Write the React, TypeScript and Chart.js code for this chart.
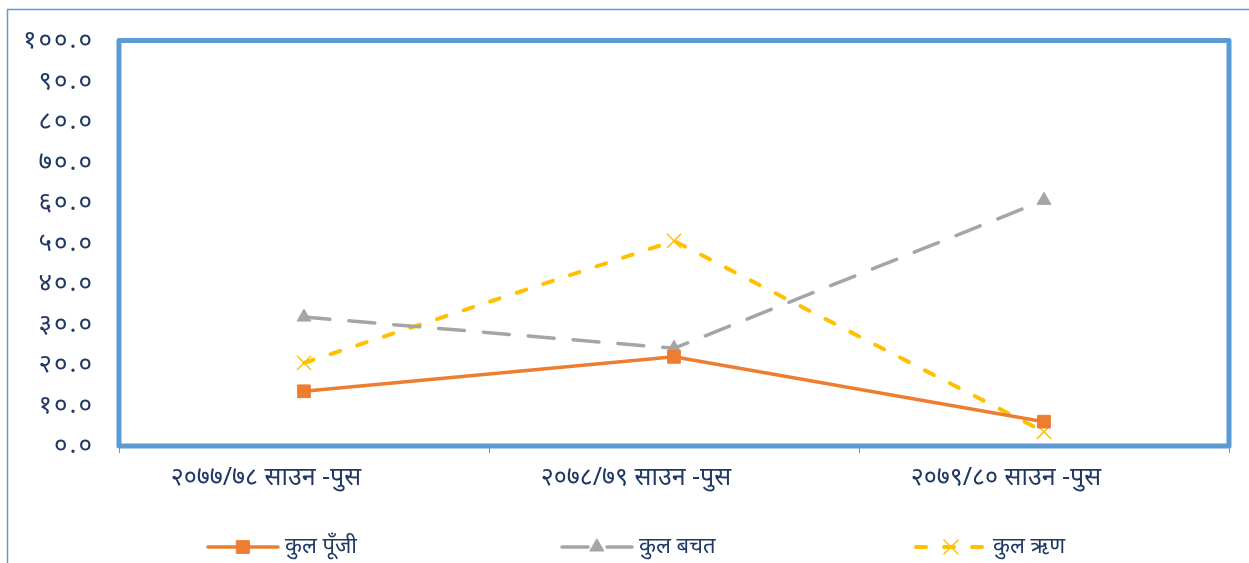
import React, { useEffect, useRef } from "react";
import { Chart, registerables } from "chart.js";
import { drawPoint } from "chart.js/helpers";

Chart.register(...registerables);

const categories = ["२०७७/७८ साउन -पुस", "२०७८/७९ साउन -पुस", "२०७९/८० साउन -पुस"];
const seriesNames = ["कुल पूँजी", "कुल बचत", "कुल ऋण"];
const capital = [13.5, 22.0, 6.0];
const savings = [31.8, 24.1, 60.6];
const loans = [20.5, 50.6, 3.5];
const yMin = 0;
const yMax = 100;
const yStep = 10;
const devanagariDigits = ["०", "१", "२", "३", "४", "५", "६", "७", "८", "९"];

const toDevanagari = (s: string) => s.replace(/[0-9]/g, (d) => devanagariDigits[Number(d)]);

const FONT = "'Noto Sans', sans-serif";
const TEXT = "#1F3864";
const BLUE = "#5B9BD5";

const framePlugin = {
  id: "frame",
  beforeDraw(chart: any) {
    const ctx = chart.ctx;
    const ys = chart.scales.y;
    if (ys && !ys.__spaced) {
      ys.__spaced = true;
      const orig = ys.drawLabels;
      ys.drawLabels = function (area: any) {
        const c = this.ctx;
        const prev = c.letterSpacing;
        c.letterSpacing = "2px";
        orig.call(this, area);
        c.letterSpacing = prev || "0px";
      };
    }
    ctx.save();
    ctx.strokeStyle = BLUE;
    ctx.lineWidth = 1.5;
    ctx.beginPath();
    ctx.moveTo(7.5, chart.height);
    ctx.lineTo(7.5, 9.5);
    ctx.lineTo(chart.width, 9.5);
    ctx.stroke();
    ctx.restore();
  },
  beforeDatasetsDraw(chart: any) {
    const { ctx, chartArea } = chart;
    ctx.save();
    ctx.strokeStyle = BLUE;
    ctx.lineWidth = 5;
    ctx.lineJoin = "round";
    ctx.strokeRect(chartArea.left, chartArea.top, chartArea.right - chartArea.left, chartArea.bottom - chartArea.top);
    ctx.restore();
  },
};

const legendX = [208, 562, 916];
const legendPlugin = {
  id: "customLegend",
  afterDraw(chart: any) {
    const ctx = chart.ctx;
    const y = 547;
    chart.data.datasets.forEach((ds: any, i: number) => {
      const x0 = legendX[i];
      ctx.save();
      ctx.strokeStyle = ds.borderColor;
      ctx.lineWidth = ds.borderWidth;
      ctx.lineCap = "round";
      ctx.setLineDash(ds.borderDash || []);
      ctx.beginPath();
      ctx.moveTo(x0, y);
      ctx.lineTo(x0 + 70, y);
      ctx.stroke();
      ctx.setLineDash([]);
      ctx.fillStyle = ds.pointBackgroundColor;
      ctx.strokeStyle = ds.pointBorderColor;
      ctx.lineWidth = ds.pointBorderWidth;
      drawPoint(ctx, { pointStyle: ds.pointStyle, radius: ds.pointRadius, rotation: 0, borderWidth: ds.pointBorderWidth }, x0 + 35, y);
      ctx.fillStyle = TEXT;
      ctx.font = `22px ${FONT}`;
      ctx.textBaseline = "middle";
      ctx.textAlign = "left";
      ctx.fillText(ds.label, x0 + 77, y);
      ctx.restore();
    });
  },
};

export default function App() {
  const ref = useRef<HTMLCanvasElement>(null);
  useEffect(() => {
    if (!ref.current) return;
    const chart = new Chart(ref.current, {
      type: "line",
      data: {
        labels: categories,
        datasets: [
          {
            label: seriesNames[0],
            data: capital,
            borderColor: "#ED7D31",
            backgroundColor: "#ED7D31",
            borderWidth: 3.5,
            pointStyle: "rect",
            pointRadius: 9,
            pointBackgroundColor: "#ED7D31",
            pointBorderColor: "#ED7D31",
            pointBorderWidth: 1,
            tension: 0,
          },
          {
            label: seriesNames[1],
            data: savings,
            borderColor: "#A5A5A5",
            backgroundColor: "#A5A5A5",
            borderWidth: 3.5,
            borderDash: [26, 19],
            borderCapStyle: "round",
            pointStyle: "triangle",
            pointRadius: 8,
            pointBackgroundColor: "#A5A5A5",
            pointBorderColor: "#A5A5A5",
            pointBorderWidth: 1,
            tension: 0,
          },
          {
            label: seriesNames[2],
            data: loans,
            borderColor: "#FFC000",
            backgroundColor: "#FFC000",
            borderWidth: 4,
            borderDash: [10, 18],
            borderCapStyle: "round",
            pointStyle: "crossRot",
            pointRadius: 10,
            pointBackgroundColor: "#FFC000",
            pointBorderColor: "#FFC000",
            pointBorderWidth: 1.5,
            tension: 0,
          },
        ],
      },
      options: {
        responsive: false,
        animation: false,
        layout: { padding: { left: 0, top: 40, right: 20, bottom: 0 } },
        plugins: { legend: { display: false }, tooltip: { enabled: false } },
        scales: {
          x: {
            type: "category",
            offset: true,
            border: { display: false },
            grid: { display: true, drawOnChartArea: false, drawTicks: true, tickLength: 7, offset: true, color: BLUE, lineWidth: 1 },
            ticks: { color: TEXT, font: { family: FONT, size: 25 }, padding: 10, labelOffset: -38, maxRotation: 0, autoSkip: false },
            afterFit: (s: any) => {
              s.height = 117;
            },
          },
          y: {
            min: yMin,
            max: yMax,
            border: { display: false },
            grid: { display: false, drawTicks: false },
            ticks: {
              stepSize: yStep,
              color: TEXT,
              font: { family: FONT, size: 26 },
              padding: 25,
              callback: (v: any) => toDevanagari(Number(v).toFixed(1)),
            },
            afterFit: (s: any) => {
              s.width = 119;
            },
          },
        },
      },
      plugins: [framePlugin, legendPlugin],
    });
    return () => chart.destroy();
  }, []);
  return (
    <div style={{ position: "fixed", left: 0, top: 0, width: 1249, height: 563, overflow: "hidden", background: "#fff" }}>
      <canvas ref={ref} width={1249} height={563} style={{ display: "block", width: 1249, height: 563 }} />
    </div>
  );
}
